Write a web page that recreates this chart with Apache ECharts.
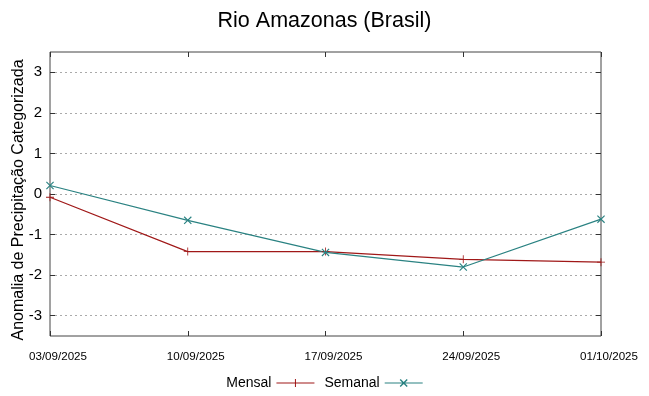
<!DOCTYPE html>
<html>
<head>
<meta charset="utf-8">
<script src="https://cdn.jsdelivr.net/npm/echarts@6/dist/echarts.min.js"></script>
<style>
  html, body { margin: 0; padding: 0; background: #fff; }
  #chart { width: 649px; height: 396px; }
</style>
</head>
<body>
<div id="chart"></div>
<script>
// datas das leituras
var datas = ['03/09/2025', '10/09/2025', '17/09/2025', '24/09/2025', '01/10/2025'];
// anomalia mensal e semanal
var mensal = [-0.08, -1.42, -1.42, -1.61, -1.68];
var semanal = [0.21, -0.65, -1.44, -1.80, -0.62];
// marcas do eixo y
var yTicks = [-3, -2, -1, 0, 1, 2, 3];
var nomeY = 'Anomalia de Precipitação Categorizada';

var corMensal = '#a01818';
var corSemanal = '#2a8282';
var fonte = 'Liberation Sans, Arial, sans-serif';

var plusPath = 'path://M4.5,0h1v10h-1z M0,4.5h10v1h-10z';
var xPath = 'path://M0,1L1,0L10,9L9,10Z M9,0L10,1L1,10L0,9Z';

var myChart = echarts.init(document.getElementById('chart'));
var option = {
    backgroundColor: '#ffffff',
    animation: false,
    textStyle: { fontFamily: fonte },
    title: {
        text: 'Rio Amazonas (Brasil)',
        left: 'center',
        top: 5,
        textStyle: { fontSize: 21.5, fontWeight: 'normal', color: '#000', fontFamily: fonte }
    },
    // titulo do eixo y (vertical)
    graphic: [{
        type: 'text',
        x: 19,
        y: 200,
        rotation: Math.PI / 2,
        style: {
            text: nomeY,
            fill: '#000',
            font: '16px ' + fonte,
            textAlign: 'center',
            textVerticalAlign: 'middle'
        }
    }],
    legend: {
        bottom: 1,
        left: 'center',
        align: 'right',
        itemWidth: 38,
        itemHeight: 8,
        itemGap: 10,
        textStyle: { fontSize: 14, color: '#000', fontFamily: fonte },
        data: [
            { name: 'Mensal', icon: 'path://M0,3.5h38v1h-38z M18.5,0h1v8h-1z' },
            { name: 'Semanal', icon: 'path://M0,3.5h38v1h-38z M15,1L16,0L23,7L22,8Z M22,0L23,1L16,8L15,7Z' }
        ]
    },
    grid: {
        left: 50, right: 48, top: 52, bottom: 60,
        outerBoundsMode: 'none',
        show: true, borderColor: '#444', borderWidth: 1
    },
    xAxis: [{
        type: 'category',
        data: datas,
        boundaryGap: false,
        axisLine: { show: false, onZero: false },
        axisTick: { show: true, inside: true, length: 5, lineStyle: { color: '#333' } },
        axisLabel: {
            fontSize: 11.6, color: '#000', margin: 15, padding: [0, 0, 0, 16],
            fontFamily: fonte
        },
        splitLine: { show: false }
    }, {
        type: 'category',
        data: datas,
        position: 'top',
        boundaryGap: false,
        axisLine: { show: false, onZero: false },
        axisTick: { show: true, inside: true, length: 5, lineStyle: { color: '#333' } },
        axisLabel: { show: false },
        splitLine: { show: false }
    }],
    yAxis: [{
        type: 'value',
        min: -3.5,
        max: 3.5,
        axisLine: { show: false, onZero: false },
        axisTick: { show: true, inside: true, length: 5, customValues: yTicks, lineStyle: { color: '#333' } },
        axisLabel: { fontSize: 15, color: '#000', margin: 8, customValues: yTicks, fontFamily: fonte },
        splitLine: { show: true, customValues: yTicks, lineStyle: { color: '#aaa', type: [2, 3], width: 1 } }
    }, {
        type: 'value',
        min: -3.5,
        max: 3.5,
        position: 'right',
        axisLine: { show: false, onZero: false },
        axisTick: { show: true, inside: true, length: 5, customValues: yTicks, lineStyle: { color: '#333' } },
        axisLabel: { show: false },
        splitLine: { show: false }
    }],
    series: [{
        name: 'Mensal',
        type: 'line',
        data: mensal,
        symbol: plusPath,
        symbolSize: 8,
        showAllSymbol: true,
        itemStyle: { color: corMensal },
        lineStyle: { color: corMensal, width: 1.2 }
    }, {
        name: 'Semanal',
        type: 'line',
        data: semanal,
        symbol: xPath,
        symbolSize: 8,
        showAllSymbol: true,
        itemStyle: { color: corSemanal },
        lineStyle: { color: corSemanal, width: 1.2 }
    }]
};
myChart.setOption(option);
</script>
</body>
</html>
